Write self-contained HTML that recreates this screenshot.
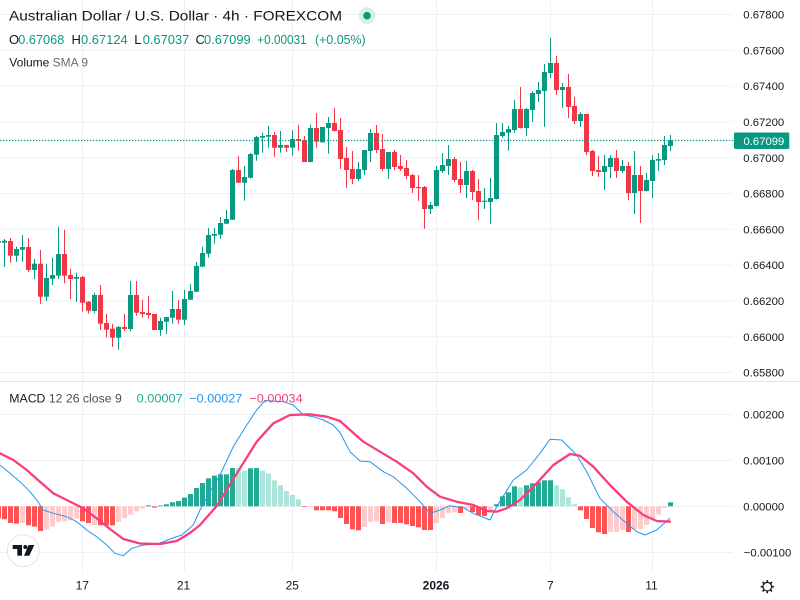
<!DOCTYPE html>
<html>
<head>
<meta charset="utf-8">
<style>
html,body{margin:0;padding:0;background:#fff;}
body{width:800px;height:600px;overflow:hidden;}
svg{display:block;font-family:"Liberation Sans",Arial,sans-serif;}
</style>
</head>
<body>
<svg id="c" width="800" height="600" viewBox="0 0 800 600" xmlns="http://www.w3.org/2000/svg">
<rect x="0" y="0" width="800" height="600" fill="#ffffff"/>
<!-- grid -->
<g stroke="#eef0f3" stroke-width="1" fill="none">
<line x1="0" x2="733" y1="14.5" y2="14.5"/>
<line x1="0" x2="733" y1="50.3" y2="50.3"/>
<line x1="0" x2="733" y1="86.1" y2="86.1"/>
<line x1="0" x2="733" y1="121.9" y2="121.9"/>
<line x1="0" x2="733" y1="157.7" y2="157.7"/>
<line x1="0" x2="733" y1="193.5" y2="193.5"/>
<line x1="0" x2="733" y1="229.3" y2="229.3"/>
<line x1="0" x2="733" y1="265.1" y2="265.1"/>
<line x1="0" x2="733" y1="300.9" y2="300.9"/>
<line x1="0" x2="733" y1="336.7" y2="336.7"/>
<line x1="0" x2="733" y1="372.5" y2="372.5"/>
<line x1="0" x2="733" y1="414.5" y2="414.5"/>
<line x1="0" x2="733" y1="460.5" y2="460.5"/>
<line x1="0" x2="733" y1="506.5" y2="506.5"/>
<line x1="0" x2="733" y1="552.5" y2="552.5"/>
<line x1="82.5" x2="82.5" y1="0" y2="572"/>
<line x1="184.5" x2="184.5" y1="0" y2="572"/>
<line x1="292.5" x2="292.5" y1="0" y2="572"/>
<line x1="436.5" x2="436.5" y1="0" y2="572"/>
<line x1="550.5" x2="550.5" y1="0" y2="572"/>
<line x1="652.5" x2="652.5" y1="0" y2="572"/>
</g>
<line x1="0" x2="800" y1="381.5" y2="381.5" stroke="#e0e3eb" stroke-width="1"/>

<g id="hist"></g>
<g id="candles"></g>

<!-- current price line -->
<line x1="0" x2="734" y1="140.5" y2="140.5" stroke="#089981" stroke-width="1.2" stroke-dasharray="1.3 1.7"/>

<!-- MACD lines -->
<polyline fill="none" stroke="#2196f3" stroke-width="1" stroke-linejoin="round" points="0,465 10,473.3 20,481.7 30,491.7 36.7,500 43.3,510 53.3,513.3 66.7,516.7 76.7,521.7 86.7,530 96.7,536.7 106.7,545 115,553.3 123.3,555.7 131.7,548.3 143.3,545 156.7,544.3 170,539 181.7,535 193.3,525 200,510 210,491.7 220,475 233.3,446.7 246.7,425 256.7,410 265,400.5 283.3,401.7 293.3,405 303.3,415 313.3,416.7 323.3,420 333.3,425 340,432.5 350,451.7 360,461 370,461.7 383.3,471.7 393.3,476.7 406.7,488.3 420,501.7 430,513.3 440,510 450,505.7 463.3,507.7 473.3,513.3 490,520 496.7,506.7 513.3,480 526.7,470 540,453.3 550,439.3 561.7,440 576.7,455 586.7,471.7 600,498.3 613.3,511.7 626.7,523.3 636.7,531.7 645,535 656.7,530 670,518.3"/>
<polyline fill="none" stroke="#f63f7c" stroke-width="2.3" stroke-linejoin="round" stroke-linecap="round" points="0,453.3 13.3,460 26.7,470 40,481.7 53.3,493.3 66.7,500 83.3,508.3 96.7,518.3 110,529 123.3,539 140,543.5 160,544 176.7,541 190,533 200,525 216.7,506 240,468.3 256.7,441.7 273.3,423.3 290,415 310,414.3 326.7,416.7 340,421 350,430 363.3,441.7 380,451.7 396.7,461.7 413.3,473.3 426.7,486.7 440,496.7 456.7,501.7 473.3,505 486.7,511 496.7,511.7 506.7,508.3 520,500 536.7,483.3 553.3,465 570,454 580,455.7 593.3,466.7 610,485 626.7,501.7 643.3,515 656.7,521 670,521.7"/>

<!-- header -->
<text x="9" y="20.7" font-size="14" fill="#131722" textLength="333" lengthAdjust="spacingAndGlyphs">Australian Dollar / U.S. Dollar · 4h · FOREXCOM</text>
<circle cx="367" cy="15.7" r="8.5" fill="#d6efe9"/>
<circle cx="367" cy="15.7" r="3.8" fill="#089981"/>
<g font-size="13">
<text x="9" y="44" fill="#131722">O</text>
<text x="18.3" y="44" fill="#089981" textLength="46" lengthAdjust="spacingAndGlyphs">0.67068</text>
<text x="71.5" y="44" fill="#131722">H</text>
<text x="81" y="44" fill="#089981" textLength="46.7" lengthAdjust="spacingAndGlyphs">0.67124</text>
<text x="134.3" y="44" fill="#131722">L</text>
<text x="142.7" y="44" fill="#089981" textLength="46.6" lengthAdjust="spacingAndGlyphs">0.67037</text>
<text x="195.5" y="44" fill="#131722">C</text>
<text x="204" y="44" fill="#089981" textLength="46.7" lengthAdjust="spacingAndGlyphs">0.67099</text>
<text x="257.3" y="44" fill="#089981" textLength="49.4" lengthAdjust="spacingAndGlyphs">+0.00031</text>
<text x="315" y="44" fill="#089981" textLength="50.7" lengthAdjust="spacingAndGlyphs">(+0.05%)</text>
</g>
<text x="9.3" y="66.7" font-size="12" fill="#131722">Volume <tspan fill="#6a6d78">SMA 9</tspan></text>

<!-- MACD legend -->
<text x="9.3" y="402.3" font-size="12.4" fill="#131722" textLength="112.5" lengthAdjust="spacingAndGlyphs">MACD <tspan fill="#4a4d57">12 26 close 9</tspan></text>
<text x="136.7" y="402.3" font-size="12.4" fill="#22ab94" textLength="46" lengthAdjust="spacingAndGlyphs">0.00007</text>
<text x="189.3" y="402.3" font-size="12.4" fill="#2196f3" textLength="53" lengthAdjust="spacingAndGlyphs">−0.00027</text>
<text x="249.3" y="402.3" font-size="12.4" fill="#f63f7c" textLength="53.4" lengthAdjust="spacingAndGlyphs">−0.00034</text>

<!-- price axis -->
<g font-size="11.3" fill="#131722">
<text x="743.3" y="18.6">0.67800</text>
<text x="743.3" y="54.4">0.67600</text>
<text x="743.3" y="90.2">0.67400</text>
<text x="743.3" y="126">0.67200</text>
<text x="743.3" y="161.8">0.67000</text>
<text x="743.3" y="197.6">0.66800</text>
<text x="743.3" y="233.4">0.66600</text>
<text x="743.3" y="269.2">0.66400</text>
<text x="743.3" y="305">0.66200</text>
<text x="743.3" y="340.8">0.66000</text>
<text x="743.3" y="376.6">0.65800</text>
<text x="743.3" y="418.6">0.00200</text>
<text x="743.3" y="464.6">0.00100</text>
<text x="743.3" y="510.6">0.00000</text>
<text x="743.8" y="556.6">−0.00100</text>
</g>
<rect x="734" y="132.5" width="55.3" height="16.5" rx="1.5" fill="#089981"/>
<text x="743.5" y="144.8" font-size="11.3" fill="#ffffff">0.67099</text>

<!-- time axis -->
<g font-size="12" fill="#131722" text-anchor="middle">
<text x="82.3" y="589.3">17</text>
<text x="183.5" y="589.3">21</text>
<text x="292.3" y="589.3">25</text>
<text x="436" y="589.3" font-weight="bold">2026</text>
<text x="550.3" y="589.3">7</text>
<text x="651.5" y="589.3">11</text>
</g>

<!-- gear -->
<g transform="translate(767.3,586.7)" stroke="#131722" fill="none" stroke-width="1.2">
<circle r="4.3"/>
<g stroke-width="1.6">
<line x1="0" y1="-4.3" x2="0" y2="-6.6"/>
<line x1="0" y1="4.3" x2="0" y2="6.6"/>
<line x1="-4.3" y1="0" x2="-6.6" y2="0"/>
<line x1="4.3" y1="0" x2="6.6" y2="0"/>
<line x1="3" y1="3" x2="4.7" y2="4.7"/>
<line x1="-3" y1="-3" x2="-4.7" y2="-4.7"/>
<line x1="3" y1="-3" x2="4.7" y2="-4.7"/>
<line x1="-3" y1="3" x2="-4.7" y2="4.7"/>
</g>
</g>

<!-- TV logo -->
<circle cx="23.3" cy="550.7" r="16" fill="#ffffff" stroke="#e0e3eb" stroke-width="1"/>
<g fill="#131722">
<rect x="12.7" y="545" width="9.3" height="4"/>
<rect x="17.3" y="545" width="4.7" height="10.7"/>
<circle cx="25.3" cy="547" r="2"/>
<polygon points="28.5,545 34.3,545 29.3,555.7 24,555.7"/>
</g>
</svg>
<script>
(function(){
var NS="http://www.w3.org/2000/svg";
var D=[
[241,242.5,239,244,1],
[240.7,242.7,239,267,1],[241,255.7,238,262.7,0],[249,255.7,246.7,261.7,1],[247,249.7,235,261.7,1],[247,270,238.3,272.3,0],
[263.7,270,259,279,1],[263.7,296.7,250,303.7,0],[278,296.7,263.7,301,1],[275,278.7,257.7,285,1],[254,275.7,226.7,279,1],
[254,275.7,229.7,283.3,0],[275,279,269,299,0],[277,278.7,272.7,302,1],[277,302.7,276,311.7,0],[301.7,310.7,301,313.7,0],
[295,311,292.7,313.3,1],[295,323.7,285,330,0],[323,329.7,314,337.3,0],[328.7,337.7,323.7,347,0],[327,337.7,326,349.7,1],
[327,329,314,331,0],[295,329,281,331,1],[295,312.7,281,315.7,0],[312,314,299.7,317.7,0],[313,315,296,318.7,0],
[314,330,314,330,0],[321,330,317.7,335.7,1],[317,321.7,317,333.7,1],[309,317.7,291,323.7,1],[309,319.7,300,323.7,0],
[299,319.7,290,325,1],[291,299.7,284,300,1],[266,291.7,262,292,1],[253,266.7,246.7,267,1],[235,253.7,228,257.7,1],
[234,235.7,228,243.7,1],[223,234.7,217,238.7,1],[219,223.7,210,224,1],[170,219.7,169,220,1],[170,182.7,156,183,0],
[177,182.7,166,200.7,1],[154,177.7,153,178.5,1],[137,154.7,136,160.7,1],[136,137.7,132.7,152.7,1],[135,136.7,126,147.7,1],
[135,147.7,132,156.7,0],[145,147.7,131,152.7,1],[145,147.7,145,152,0],[139,147.7,130.3,155.7,1],[139,140.7,124.7,150.7,0],
[140,162,136,162,0],[128,162,124.7,162.5,1],[128,141.7,113,147.7,0],[127,142.3,127,142.5,1],[123,128,117,153.7,1],
[123,131,108,131.5,0],[130,159,118,169,0],[158,170,147,188,0],[169,179,151,184,0],[169,179,162,181,1],
[150,170,150,175,1],[133,151,129,162,1],[133,150,125,153,0],[149,169,134,171,0],[152,169,152,179,1],
[152,167,150,170,0],[166,169,155,171,0],[168,176,160,179,0],[175,188,174,193,0],[187,188,175,201,0],
[187,209,186,228.7,0],[205,209,202,214,1],[170,206,166,206.5,1],[165,171,153,173,1],[159,166,145,175,1],
[159,180,157,182,0],[179,185,162,193,0],[171,185,161,198,1],[171,192,170,200,0],[191,202,179,220,0],
[200.7,201.7,188,209,1],[198,202,178,224,1],[135,199,123,199.5,1],[132,136,123,137.7,1],[129,132.7,126,150.7,1],
[109,130,100,132.7,1],[109,128,87,128.5,0],[109,128,108,136,1],[93,110,91,122,1],[90,94,82,102,1],
[72,91,64,127,1],[63,73,38,78,1],[63,90,56,95,0],[87,90,83,107.7,1],[87,107,74,118,0],
[106,121,97,124,0],[114,121,112,127,1],[114,152,114,155,0],[151,171,150,176,0],[170,172,156,177,0],
[166,172,155,190,1],[158,167,155,178,1],[158,171,150,178,0],[166,171,160,173,1],[166,193,162,200,0],
[175,193,151,214,1],[175,191,166,223,0],[180,191,173,191.5,1],[160,181,155,198,1],[159,160.7,153,171,1],
[145,160,136,165,1],[140,146,135,151,1]
];
var cg=document.getElementById("candles");
for(var k=0;k<D.length;k++){
  var i=k-1,d=D[k];
  var col=d[4]?"#089981":"#f23645";
  var wx=4.5+6*i;
  var l=document.createElementNS(NS,"line");
  l.setAttribute("x1",wx);l.setAttribute("x2",wx);
  l.setAttribute("y1",d[2]);l.setAttribute("y2",d[3]);
  l.setAttribute("stroke",col);l.setAttribute("stroke-width","1");
  cg.appendChild(l);
  var r=document.createElementNS(NS,"rect");
  var h=Math.max(1.2,d[1]-d[0]);
  r.setAttribute("x",2+6*i);r.setAttribute("y",d[0]);
  r.setAttribute("width",5);r.setAttribute("height",h);
  r.setAttribute("fill",col);
  cg.appendChild(r);
}
var H=[-13,-16.7,-17.3,-16.7,-19,-20.3,-24.7,-23.3,-20.3,-15.7,
-15,-14,-12.3,-15,-16.7,-18.7,-19,-19,-19,-15.7,
-11.7,-8.3,-5,-2.3,1,-1.3,0.7,2,4,5.3,
8.7,12.3,18.3,23.3,28,30.7,32,32,38.3,38.3,
35.7,38,38.3,35.7,32.7,26,21,15.3,11.3,7,
-0.7,-0.3,-4,-4,-4,-5,-11.7,-17.7,-23,-24,
-20.7,-15.7,-15,-17.7,-15.7,-16.7,-16.7,-18,-19.7,-21,
-23.7,-23.7,-16.7,-11.7,-6.7,-6,-6.7,-2.3,-5.7,-9,
-9.7,-5.7,2,10,14,20,19,21,23,24,
26,26,21,17,9,2,-4,-12.7,-21.7,-26,
-27.7,-25.7,-25.7,-23.7,-25.7,-23,-22.7,-18.7,-13.7,-8,
-1.7,4];
var S="RRRPRRRPPP"+"PPPRRPRRRP"+"PPPPGRGGGG"+"GGGGGGGGGL"+"LGGLLLLLLL"+"RPRRRRRRRR"+"PPPRPRRRRR"+"RRPPPPRPRR"+"RPGGGGLGGG"+"GGLLLLRRRR"+"RPPPRPPPPP"+"PG";
var CM={R:"#ff5252",P:"#fccbcd",G:"#22ab94",L:"#ace5dc"};
var hg=document.getElementById("hist");
function bar(i,v,c){
  var r=document.createElementNS(NS,"rect");
  var z=506.3;
  var a=Math.max(0.8,Math.abs(v));
  r.setAttribute("x",2+6*i);r.setAttribute("width",5);
  r.setAttribute("y",v>=0?z-a:z);r.setAttribute("height",a);
  r.setAttribute("fill",CM[c]);
  hg.appendChild(r);
}
bar(-1,-12,"R");
for(var j=0;j<H.length;j++){bar(j,H[j],S.charAt(j));}
})();
</script>
</body>
</html>
